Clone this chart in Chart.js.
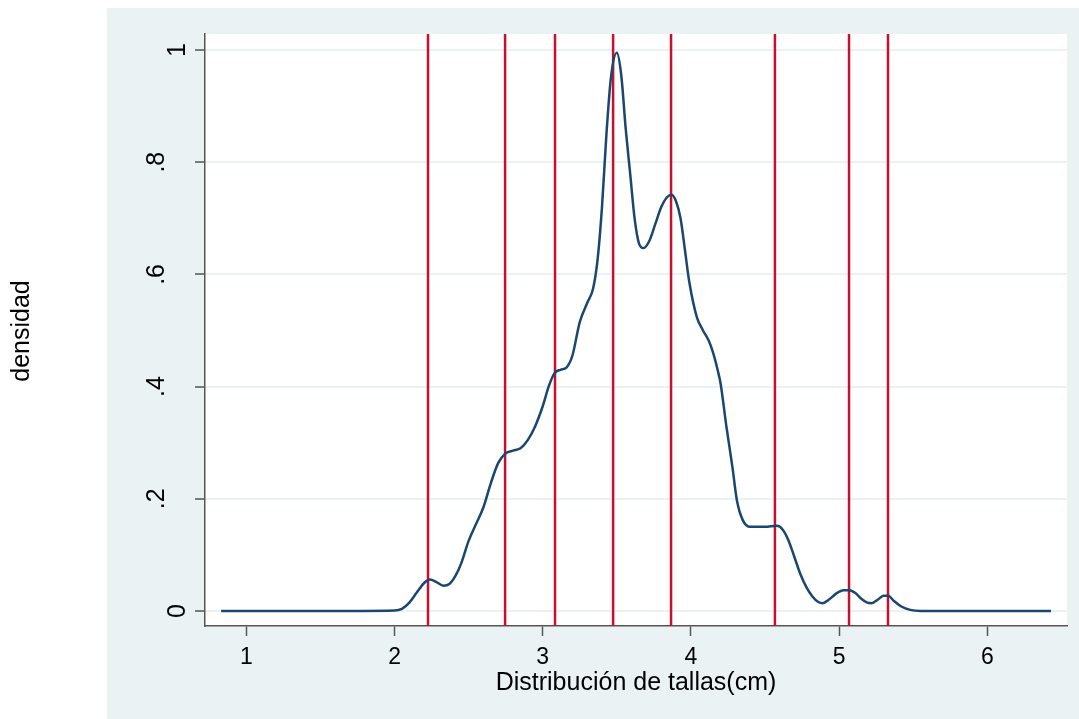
<!DOCTYPE html>
<html>
<head>
<meta charset="utf-8">
<script src="https://cdn.jsdelivr.net/npm/chart.js@4/dist/chart.umd.min.js"></script>
<style>
html,body{margin:0;padding:0;background:#ffffff;}
#wrap{width:1079px;height:719px;position:relative;}
</style>
</head>
<body>
<div id="wrap"><canvas id="c" width="1079" height="719"></canvas></div>
<script>
// ---- data ----
const densX = [0.83,1.5,2.0,2.05,2.10,2.15,2.20,2.24,2.28,2.33,2.37,2.41,2.45,2.50,2.55,2.60,2.65,2.70,2.75,2.80,2.85,2.90,2.95,3.00,3.04,3.08,3.12,3.16,3.20,3.25,3.30,3.34,3.37,3.40,3.43,3.46,3.50,3.53,3.56,3.59,3.62,3.65,3.68,3.72,3.76,3.80,3.84,3.87,3.90,3.93,3.96,3.99,4.04,4.08,4.12,4.15,4.18,4.20,4.24,4.28,4.31,4.35,4.40,4.50,4.58,4.62,4.66,4.70,4.74,4.78,4.82,4.86,4.89,4.93,4.98,5.03,5.07,5.11,5.15,5.19,5.22,5.26,5.30,5.33,5.37,5.42,5.48,5.55,6.0,6.43];
const densY = [0,0,0.001,0.004,0.015,0.033,0.050,0.056,0.052,0.045,0.048,0.062,0.085,0.125,0.155,0.185,0.228,0.264,0.281,0.286,0.290,0.305,0.330,0.365,0.400,0.424,0.430,0.434,0.455,0.515,0.549,0.575,0.626,0.72,0.85,0.95,0.995,0.955,0.86,0.78,0.70,0.655,0.647,0.66,0.69,0.72,0.738,0.742,0.73,0.70,0.643,0.585,0.524,0.501,0.482,0.46,0.43,0.406,0.328,0.257,0.198,0.162,0.150,0.150,0.152,0.145,0.125,0.095,0.065,0.042,0.026,0.016,0.014,0.020,0.031,0.037,0.037,0.032,0.022,0.015,0.014,0.020,0.027,0.027,0.018,0.008,0.002,0,0,0];
const vLines = [2.226,2.746,3.083,3.475,3.866,4.567,5.067,5.33];
const xTicks = [1,2,3,4,5,6];
const xTickLabels = ['1','2','3','4','5','6'];
const yTicks = [0,0.2,0.4,0.6,0.8,1];
const yTickLabels = ['0','.2','.4','.6','.8','1'];
const xTitle = 'Distribución de tallas(cm)';
const yTitle = 'densidad';
const xMin = 0.721, xMax = 6.538, yMin = -0.0267, yMax = 1.0285;

const FONT = '"Liberation Sans", Arial, sans-serif';

const datasets = [{
  label: 'densidad',
  data: densX.map((x,i)=>({x:x, y:densY[i]})),
  borderColor: '#1a476f',
  borderWidth: 2.5,
  pointRadius: 0,
  cubicInterpolationMode: 'monotone',
  fill: false
}];
vLines.forEach(v => datasets.push({
  label: 'v'+v,
  data: [{x:v, y:yMin},{x:v, y:yMax}],
  borderColor: '#c8102e',
  borderWidth: 2.5,
  pointRadius: 0,
  fill: false
}));

const bgPlugin = {
  id: 'bg',
  beforeDraw(chart){
    const ctx = chart.ctx, a = chart.chartArea;
    ctx.save();
    ctx.fillStyle = '#ffffff';
    ctx.fillRect(0,0,chart.width,chart.height);
    ctx.fillStyle = '#eaf2f3';
    ctx.fillRect(107,8,chart.width-107,chart.height-8);
    ctx.fillStyle = '#ffffff';
    ctx.fillRect(a.left,a.top,a.right-a.left,a.bottom-a.top);
    ctx.restore();
  }
};

const textPlugin = {
  id: 'texts',
  afterDraw(chart){
    const ctx = chart.ctx, a = chart.chartArea;
    const xs = chart.scales.x, ys = chart.scales.y;
    ctx.save();
    ctx.fillStyle = '#000000';
    // x tick labels
    ctx.font = '23px ' + FONT;
    ctx.textAlign = 'center';
    ctx.textBaseline = 'alphabetic';
    xTicks.forEach((v,i)=>{
      ctx.fillText(xTickLabels[i], xs.getPixelForValue(v), 664);
    });
    // y tick labels (rotated)
    ctx.font = '25px ' + FONT;
    yTicks.forEach((v,i)=>{
      const lab = yTickLabels[i];
      const py = ys.getPixelForValue(v);
      const bx = 185 - 21*(lab.length-1);
      ctx.save();
      ctx.translate(bx, py);
      ctx.rotate(-Math.PI/2);
      ctx.textAlign = 'center';
      ctx.textBaseline = 'alphabetic';
      ctx.fillText(lab, 0, 0);
      ctx.restore();
    });
    // x title
    ctx.font = '25px ' + FONT;
    ctx.textAlign = 'center';
    ctx.fillText(xTitle, (a.left+a.right)/2, 690);
    // y title
    ctx.save();
    ctx.translate(29, 331);
    ctx.rotate(-Math.PI/2);
    ctx.textAlign = 'center';
    ctx.textBaseline = 'alphabetic';
    ctx.fillText(yTitle, 0, 0);
    ctx.restore();
    ctx.restore();
  }
};

new Chart(document.getElementById('c'), {
  type: 'line',
  data: { datasets },
  options: {
    responsive: false,
    animation: false,
    devicePixelRatio: 1,
    layout: { padding: { top: 34, right: 12, left: 0, bottom: 0 } },
    plugins: { legend: { display: false }, tooltip: { enabled: false } },
    scales: {
      x: {
        type: 'linear', min: xMin, max: xMax,
        afterBuildTicks: s => { s.ticks = xTicks.map(v => ({value: v})); },
        afterFit: s => { s.height = 93; },
        ticks: { display: false },
        grid: { drawOnChartArea: false, drawTicks: true, tickLength: 10, tickColor: '#555555', tickWidth: 1.5 },
        border: { display: true, color: '#555555', width: 1.5 }
      },
      y: {
        type: 'linear', min: yMin, max: yMax,
        afterBuildTicks: s => { s.ticks = yTicks.map(v => ({value: v})); },
        afterFit: s => { s.width = 205; },
        ticks: { display: false },
        grid: { color: '#eaf2f3', lineWidth: 2, drawTicks: true, tickLength: 10, tickColor: '#555555', tickWidth: 1.5 },
        border: { display: true, color: '#555555', width: 1.5 }
      }
    }
  },
  plugins: [bgPlugin, textPlugin]
});
</script>
</body>
</html>
